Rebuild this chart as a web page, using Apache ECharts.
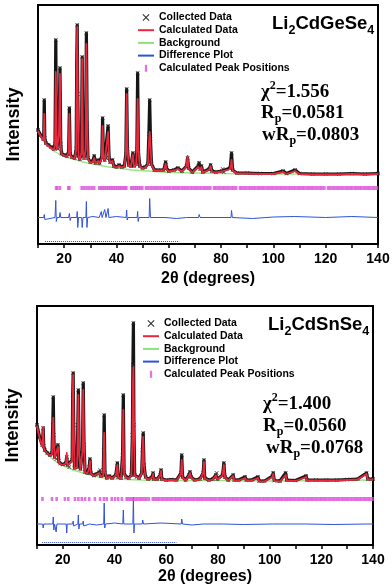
<!DOCTYPE html>
<html>
<head>
<meta charset="utf-8">
<script src="https://cdn.jsdelivr.net/npm/echarts@6/dist/echarts.min.js"></script>
<style>html,body{margin:0;padding:0;background:#fff}#chart{width:392px;height:587px}</style>
</head>
<body>
<div id="chart"></div>
<script>
// Li2CdGeSe4 : [2theta, intensity] (arbitrary units)
var geObs = [[10,114],[11,109],[12,105],[12.2,108],[12.4,144],[12.6,106],[13,101],[14,99],[15,97],[16,95],[16.5,100],[16.8,204],[17.0,130],[17.2,96],[17.6,95],[18.0,110],[18.4,176],[18.7,100],[19,90.5],[20,89],[21,88],[21.7,92],[22.0,136],[22.3,90],[23,87],[24,86],[24.6,95],[24.8,180],[25.0,219],[25.2,150],[25.5,88],[26,85],[26.6,92],[26.9,187],[27.2,92],[27.6,86],[28.2,95],[28.5,211],[28.8,120],[29.1,86],[30,82],[31,83],[31.5,88],[32,81],[33,84],[33.5,81],[34.4,88],[34.7,126],[35.0,88],[35.5,84],[36.0,86],[36.8,118],[37.2,86],[37.6,82],[38.5,84],[39,78],[40,77],[41,79],[42,77],[43,78],[43.6,90],[43.9,155],[44.2,95],[44.7,79],[45.5,78],[46.3,91],[46.7,78],[47.5,80],[47.8,95],[48.1,171],[48.4,92],[48.9,78],[50,76],[51,77],[52,80],[52.4,110],[52.7,144],[53.0,105],[53.4,80],[54.5,74],[56,74],[58,74],[58.5,78],[58.8,82],[59.1,76],[60,73],[62,74],[63.5,76],[65,73],[66.8,78],[67.2,86],[67.6,76],[69,72],[71.3,78],[71.6,81],[72.0,75],[72.5,78],[73,72],[75.5,75],[76,79],[76.5,73],[78,72],[80.3,73],[80.6,75],[81,72],[83.5,76],[84.0,91],[84.4,74],[86,71],[90,71],[95,70.5],[100,70.5],[103.7,73],[105,70.5],[108.3,74],[110,70.5],[115,70],[120,70],[125,70],[130,70.5],[135,70],[140,70.5]];
var geCalc = [[10,113],[11,108],[12,104],[12.2,107],[12.4,130],[12.6,105],[13,100],[14,98],[15,96],[16,94],[16.5,99],[16.8,172],[17.0,128],[17.2,95],[17.6,94],[18.0,109],[18.4,170],[18.7,99],[19,90],[20,88.5],[21,87.5],[21.7,91],[22.0,130],[22.3,89],[23,86.5],[24,85.5],[24.6,94],[24.8,178],[25.0,217],[25.2,152],[25.5,87],[26,84.5],[26.6,91],[26.9,185],[27.2,91],[27.6,85],[28.2,94],[28.5,200],[28.8,125],[29.1,85],[30,81.5],[31,82],[31.5,86],[32,80.5],[33,83],[33.5,80.5],[34.4,86],[34.7,118],[35.0,87],[35.5,83],[36.0,85],[36.8,112],[37.2,85],[37.6,81.5],[38.5,83],[39,77.5],[40,76.5],[41,78],[42,76.5],[43,77.5],[43.6,89],[43.9,150],[44.2,96],[44.7,78.5],[45.5,77.5],[46.3,89],[46.7,77.5],[47.5,79],[47.8,94],[48.1,145],[48.4,95],[48.9,77.5],[50,75.5],[51,76.5],[52,79],[52.4,100],[52.7,112],[53.0,100],[53.4,79],[54.5,73.5],[56,73.5],[58,73.5],[58.5,77],[58.8,80],[59.1,75],[60,72.5],[62,73.5],[63.5,75],[65,72.5],[66.8,77.5],[67.2,88],[67.6,75.5],[69,71.5],[71.3,77],[71.6,78],[72.0,74.5],[72.5,77],[73,71.5],[75.5,74.5],[76,78],[76.5,72.5],[78,71.5],[80.3,72.5],[80.6,74],[81,71.5],[83.5,75],[84.0,84],[84.4,73.5],[86,70.5],[90,70.5],[95,70],[100,70],[103.7,72],[105,70],[108.3,73],[110,70],[115,69.5],[120,69.5],[125,69.5],[130,70],[135,69.5],[140,70]];
var geBkg = [[10,112],[12,103],[14,97],[16,93],[18,90],[20,87.5],[24,84.5],[28,81.5],[32,79.5],[36,77.5],[40,76],[46,74],[52,73],[60,71.5],[70,71],[80,70.5],[100,70],[120,70],[140,70]];
var geDiff = [[10,0],[12.2,0],[12.4,3],[12.6,-2],[13,0],[16.5,0],[16.8,17],[17.0,-4],[17.3,0],[18.2,0],[18.4,5],[18.7,0],[21.7,0],[22.0,4],[22.3,-3],[22.6,0],[24.8,0],[25.0,6],[25.2,-10],[25.5,0],[26.7,0],[26.9,-10],[27.2,0],[28.3,0],[28.5,16],[28.7,-10],[29,0],[31,1],[33.4,0],[34.2,6],[34.5,0],[35.5,8],[36,0],[36.6,0],[36.8,9],[37.1,0],[40,1],[43.7,0],[43.9,7.5],[44.1,-2.5],[44.4,0],[47.9,0],[48.1,6],[48.3,-4],[48.6,0],[52.5,0],[52.7,19],[53,0],[58.6,0],[58.8,2],[59,0],[63,-1],[66.8,0],[67,-2],[67.3,0],[71.4,0],[71.6,3],[72,0],[83.8,0],[84,7],[84.3,0],[92,-1],[100,0.5],[108,1],[120,0],[130,1],[140,0]];
var geTicks = [16.9,17.4,18.4,21.6,22.0,26.7,27.7,28.6,29.6,30.5,31.5,33.4,34.1,34.8,35.5,36.2,36.9,37.6,38.3,39.0,39.7,40.4,41.1,41.8,42.5,43.2,43.8,45.6,46.3,47.0,47.7,48.4,49.1,49.9,51.3,52.1,53.0,53.8,54.7,55.5,56.4,57.2,58.1,58.9,59.8,60.6,61.5,62.3,63.2,64.0,64.9,65.7,66.6,67.4,68.3,69.1,70.0,70.8,71.7,72.5,73.4,74.2,75.1,75.9,77.3,78.1,79.0,79.8,80.7,81.5,82.4,83.2,84.1,84.9,85.8,87.2,88.0,88.9,89.7,90.6,91.4,92.3,93.1,94.0,94.8,95.7,96.5,97.4,98.2,99.1,99.9,100.8,101.6,102.5,103.3,104.2,105.0,105.9,106.7,107.6,108.4,109.3,110.1,111.0,111.8,112.7,113.5,114.4,115.2,116.1,116.9,117.8,118.6,119.5,120.9,121.7,122.6,123.4,124.3,125.1,126.0,126.8,127.7,128.5,129.4,130.2,131.1,131.9,132.8,133.6,134.5,135.3,136.2,137.0,137.9,138.7,139.6];

// Li2CdSnSe4
var snObs = [[10,120],[11,108],[12,100],[12.2,104],[12.4,117],[12.6,99],[13,95],[14,92],[15,90],[15.8,92],[16.1,120],[16.3,148],[16.5,110],[16.8,88],[17.5,86],[18.1,100],[18.4,84],[19,81.5],[20,80.5],[21.2,82],[21.5,88],[21.8,80],[22.5,78],[23.6,85],[23.8,150],[24.0,172],[24.2,120],[24.5,77],[25.5,78],[25.8,120],[26.0,155],[26.3,90],[26.8,76],[27.6,95],[27.9,162],[28.2,100],[28.6,73],[29.5,72],[30.2,78],[30.5,86],[30.8,72],[32,69.5],[33,71],[34.1,73],[34.4,75],[34.7,69],[35.6,70],[35.8,95],[36.0,130],[36.3,72],[37,67],[38,69],[39,67],[40.5,70],[41.1,82],[41.4,68],[42.5,67],[43.1,90],[43.4,150],[43.7,72],[44.5,68],[45.5,67],[46.5,70],[46.9,110],[47.1,180],[47.3,222],[47.5,120],[47.8,70],[48.5,68],[49.5,67],[50.5,72],[50.8,95],[51.1,112],[51.4,80],[52,68],[53,66],[54.6,68],[54.9,72],[55.2,66],[56.5,66],[57.7,70],[58,75],[58.3,66],[60,65],[62,65.5],[64,65],[65.7,72],[66.0,90],[66.3,68],[67.5,65],[68.8,70],[69.2,73],[69.6,68],[71,65],[73,66],[74.3,72],[74.6,85],[74.9,67],[76.5,65],[78,66],[79.2,70],[79.5,72],[79.8,66],[81.8,70],[82.3,82],[82.7,68],[84,65],[85.9,70],[86.3,65],[88,65],[90.5,68],[91,65],[93,65],[95.5,68],[96,64],[98,64],[101.1,69],[101.4,72],[101.8,64.5],[104,64],[106.2,72],[106.6,65],[110,64.5],[114.1,69],[114.5,65],[118,65],[122,65],[126,65],[130,65.5],[134,66],[137.5,72],[138,66],[140,66]];
var snCalc = [[10,119],[11,107],[12,99],[12.2,103],[12.4,118],[12.6,98],[13,94.5],[14,91.5],[15,89.5],[15.8,91],[16.1,112],[16.3,127],[16.5,105],[16.8,87],[17.5,86],[18.1,98],[18.4,83.5],[19,81],[20,80],[21.2,81.5],[21.5,92],[21.8,79.5],[22.5,77.5],[23.6,84],[23.8,148],[24.0,170],[24.2,121],[24.5,76.5],[25.5,77.5],[25.8,115],[26.0,150],[26.3,92],[26.8,75.5],[27.6,94],[27.9,155],[28.2,101],[28.6,72.5],[29.5,71.5],[30.2,77],[30.5,84],[30.8,71.5],[32,69],[33,70.5],[34.1,72],[34.4,74],[34.7,68.5],[35.6,69.5],[35.8,90],[36.0,112],[36.3,73],[37,66.5],[38,68.5],[39,66.5],[40.5,69.5],[41.1,80],[41.4,67.5],[42.5,66.5],[43.1,86],[43.4,135],[43.7,71],[44.5,67.5],[45.5,66.5],[46.5,69.5],[46.9,105],[47.1,160],[47.3,178],[47.5,125],[47.8,69.5],[48.5,67.5],[49.5,66.5],[50.5,71.5],[50.8,92],[51.1,108],[51.4,79],[52,67.5],[53,65.5],[54.6,67.5],[54.9,71],[55.2,65.5],[56.5,65.5],[57.7,69.5],[58,74],[58.3,65.5],[60,64.5],[62,65],[64,64.5],[65.7,71],[66.0,85],[66.3,67.5],[67.5,64.5],[68.8,69.5],[69.2,72],[69.6,67.5],[71,64.5],[73,65.5],[74.3,71.5],[74.6,83],[74.9,66.5],[76.5,64.5],[78,65.5],[79.2,69.5],[79.5,71],[79.8,65.5],[81.8,69.5],[82.3,80],[82.7,67.5],[84,64.5],[85.9,69],[86.3,64.5],[88,64.5],[90.5,67],[91,64.5],[93,64.5],[95.5,67],[96,63.5],[98,63.5],[101.1,68],[101.4,71],[101.8,64],[104,63.5],[106.2,70],[106.6,64.5],[110,64],[114.1,68],[114.5,64.5],[118,64.5],[122,64.5],[126,64.5],[130,65],[134,65.5],[137.5,71],[138,65.5],[140,65.5]];
var snBkg = [[10,118],[12,99],[14,91],[16,86],[18,82],[20,79.5],[24,75],[28,72],[32,69],[36,67],[40,66],[50,65],[60,64.5],[80,64.5],[100,64],[120,64.5],[140,65]];
var snDiff = [[10,0],[12.2,0],[12.4,-4],[12.6,0],[16.1,0],[16.3,7],[16.5,-6],[16.8,0],[17.2,0],[17.4,-8],[17.7,0],[21.3,0],[21.5,-9],[21.7,0],[23.8,0],[24.0,3],[24.2,-2],[24.5,0],[25.8,0],[26.0,9],[26.2,-5],[26.5,0],[27.7,0],[27.9,3],[28.1,-2],[28.4,0],[30.3,0],[30.5,2],[30.8,0],[33,-1],[35.8,0],[36.0,21],[36.2,-4],[36.5,0],[40,1],[43.2,0],[43.4,14],[43.6,0],[47.1,0],[47.3,27],[47.5,-9],[47.7,0],[50.7,0],[50.9,4],[51.2,0],[58,1],[65.8,0],[66.0,5],[66.3,0],[70,-1],[74.4,0],[74.6,1.5],[74.9,0],[82.1,0],[82.3,1.5],[82.6,0],[90,-0.5],[101.2,0],[101.4,1],[101.7,0],[106.0,0],[106.2,2],[106.5,0],[114.0,0],[114.1,1],[114.4,0],[125,-0.5],[137.4,0],[137.5,1],[137.8,0],[140,0]];
var snTicks = [12.1,15.8,17.6,20.8,22.1,24.7,26.0,27.3,28.6,30.2,32.4,34.4,35.9,37.0,38.9,40.2,41.4,42.8,44.7,45.5,46.4,47.2,48.1,48.9,49.8,50.6,51.5,52.3,53.2,54.8,55.6,56.5,57.3,58.2,59.0,59.9,60.7,61.6,62.4,63.3,64.1,65.0,65.8,66.7,67.5,68.4,69.2,70.1,70.9,71.8,72.6,73.5,74.3,75.2,76.0,76.9,77.7,78.6,79.4,80.3,81.1,82.0,82.8,83.7,84.5,85.4,86.2,87.1,87.9,88.8,89.6,90.5,91.3,92.2,93.0,93.9,94.7,95.6,96.4,97.3,98.1,99.0,99.8,100.7,101.5,102.4,103.2,104.1,104.9,105.8,106.6,107.5,108.3,109.2,110.0,110.9,111.7,112.6,113.4,114.3,115.1,116.0,116.8,117.7,118.5,119.4,120.2,121.1,121.9,122.8,123.6,124.5,125.3,126.2,127.0,127.9,128.7,129.6,130.4,131.3,132.1,133.0,133.8,134.7,135.5,136.4,137.2,138.1,138.9,139.8];

// short dotted blue trace along the bottom of each frame (2theta range)
var geDotRange = [12.7, 64];
var snDotRange = [12, 64];

var xTickLabels = [20, 40, 60, 80, 100, 120, 140];

var myChart = echarts.init(document.getElementById('chart'));

var SANS = 'Liberation Sans';
var SERIF = 'Liberation Serif';
var X_ICON = 'path://M0,1L1,0L5,4L9,0L10,1L6,5L10,9L9,10L5,6L1,10L0,9L4,5Z';
var LINE_ICON = 'path://M0,0H16V2H0Z';
var BAR_ICON = 'path://M0,0H2V6H0Z';

var richTitle = {
    m: {fontFamily: SANS, fontWeight: 'bold', fontSize: 18.5, lineHeight: 20, verticalAlign: 'top', color: '#000'},
    s: {fontFamily: SANS, fontWeight: 'bold', fontSize: 12.5, lineHeight: 13, verticalAlign: 'top', color: '#000', padding: [10, 0, 0, 0]}
};
var richStat = {
    m: {fontFamily: SERIF, fontWeight: 'bold', fontSize: 19, lineHeight: 20, verticalAlign: 'top', color: '#000', padding: [4, 0, 0, 0]},
    u: {fontFamily: SERIF, fontWeight: 'bold', fontSize: 12, lineHeight: 12, verticalAlign: 'top', color: '#000', padding: [1, 0, 0, 0]},
    d: {fontFamily: SERIF, fontWeight: 'bold', fontSize: 12, lineHeight: 12, verticalAlign: 'top', color: '#000', padding: [13, 0, 0, 0]}
};

function panelSeries(idx, obs, calc, bkg, diff, ticks, dotRange, tickRow, diffZero) {
    return [
        {name: 'Background', type: 'line', xAxisIndex: idx, yAxisIndex: idx, data: bkg, symbol: 'none',
            lineStyle: {color: '#9be585', width: 1.4}, itemStyle: {color: '#8fe07a'}, z: 1},
        {name: 'Collected Data', type: 'line', xAxisIndex: idx, yAxisIndex: idx, data: obs,
            symbol: X_ICON, symbolSize: 4, showSymbol: true,
            lineStyle: {color: '#151515', width: 3.2, join: 'round', cap: 'round'}, itemStyle: {color: '#2a2a2a'}, z: 2},
        {name: 'Calculated Data', type: 'line', xAxisIndex: idx, yAxisIndex: idx, data: calc, symbol: 'none',
            lineStyle: {color: '#e8283c', width: 1.8, join: 'round'}, itemStyle: {color: '#e8283c'}, z: 3},
        {name: 'Difference Plot', type: 'line', xAxisIndex: idx, yAxisIndex: idx, symbol: 'none',
            data: diff.map(function (d) { return [d[0], diffZero + d[1]]; }),
            lineStyle: {color: '#2f52dc', width: 1, join: 'round'}, itemStyle: {color: '#2f52dc'}, z: 3},
        {name: 'Calculated Peak Positions', type: 'scatter', xAxisIndex: idx, yAxisIndex: idx,
            data: ticks.map(function (t) { return [t, tickRow]; }),
            symbol: 'rect', symbolSize: [2.6, 4], itemStyle: {color: '#dc4fdc'}, z: 3},
        {name: 'trace', type: 'line', xAxisIndex: idx, yAxisIndex: idx, symbol: 'none',
            data: dotRange.map(function (t) { return [t, 2.5]; }),
            lineStyle: {color: '#3050e0', width: 1, type: 'dotted'}, z: 1}
    ];
}

function xAxisOf(idx, gap) {
    return {
        gridIndex: idx, type: 'value', min: 10, max: 140, interval: 10,
        axisLine: {lineStyle: {color: '#000', width: 2}},
        axisTick: {length: 4, lineStyle: {color: '#000', width: 1.5}},
        axisLabel: {
            margin: 8, color: '#000', fontFamily: SANS, fontWeight: 'bold', fontSize: 14,
            formatter: function (v) { return xTickLabels.indexOf(v) >= 0 ? String(v) : ''; }
        },
        splitLine: {show: false},
        name: '2θ (degrees)', nameLocation: 'middle', nameGap: gap,
        nameTextStyle: {color: '#000', fontFamily: SANS, fontWeight: 'bold', fontSize: 16}
    };
}

function yAxisOf(idx) {
    return {
        gridIndex: idx, type: 'value', min: 0, max: 239,
        axisLine: {show: false}, axisTick: {show: false}, axisLabel: {show: false}, splitLine: {show: false},
        name: 'Intensity', nameLocation: 'middle', nameGap: 15, nameRotate: 90,
        nameTextStyle: {color: '#000', fontFamily: SANS, fontWeight: 'bold', fontSize: 18}
    };
}

function legendOf(left, top) {
    return {
        orient: 'vertical', left: left, top: top, padding: 0, itemWidth: 16, itemHeight: 7, itemGap: 1.7,
        selectedMode: false,
        textStyle: {color: '#000', fontFamily: SANS, fontWeight: 'bold', fontSize: 10.5},
        data: [
            {name: 'Collected Data', icon: X_ICON},
            {name: 'Calculated Data', icon: LINE_ICON},
            {name: 'Background', icon: LINE_ICON},
            {name: 'Difference Plot', icon: LINE_ICON},
            {name: 'Calculated Peak Positions', icon: BAR_ICON}
        ]
    };
}

var option = {
    animation: false,
    backgroundColor: '#fff',
    grid: [
        {left: 38, right: 14, top: 5, height: 239, show: true, borderColor: '#000', borderWidth: 2, outerBoundsMode: 'none'},
        {left: 37, right: 19, top: 306, height: 239, show: true, borderColor: '#000', borderWidth: 2, outerBoundsMode: 'none'}
    ],
    xAxis: [xAxisOf(0, 27), xAxisOf(1, 24)],
    yAxis: [yAxisOf(0), yAxisOf(1)],
    legend: [legendOf(138, 12), legendOf(143, 318)],
    title: [
        {left: 267, top: 9, padding: 5, text: '{m|Li}{s|2}{m|CdGeSe}{s|4}', textStyle: {rich: richTitle}},
        {left: 256, top: 74, text: '{m|χ}{u|2}{m|=1.556}', textStyle: {rich: richStat}},
        {left: 256, top: 95, text: '{m|R}{d|p}{m|=0.0581}', textStyle: {rich: richStat}},
        {left: 257, top: 117, text: '{m|wR}{d|p}{m|=0.0803}', textStyle: {rich: richStat}},
        {left: 263, top: 310, padding: 5, text: '{m|Li}{s|2}{m|CdSnSe}{s|4}', textStyle: {rich: richTitle}},
        {left: 258, top: 386, text: '{m|χ}{u|2}{m|=1.400}', textStyle: {rich: richStat}},
        {left: 258, top: 408, text: '{m|R}{d|p}{m|=0.0560}', textStyle: {rich: richStat}},
        {left: 261, top: 430, text: '{m|wR}{d|p}{m|=0.0768}', textStyle: {rich: richStat}}
    ],
    series: panelSeries(0, geObs, geCalc, geBkg, geDiff, geTicks, geDotRange, 56, 26.5)
        .concat(panelSeries(1, snObs, snCalc, snBkg, snDiff, snTicks, snDotRange, 46, 21))
};

myChart.setOption(option);
</script>
</body>
</html>
